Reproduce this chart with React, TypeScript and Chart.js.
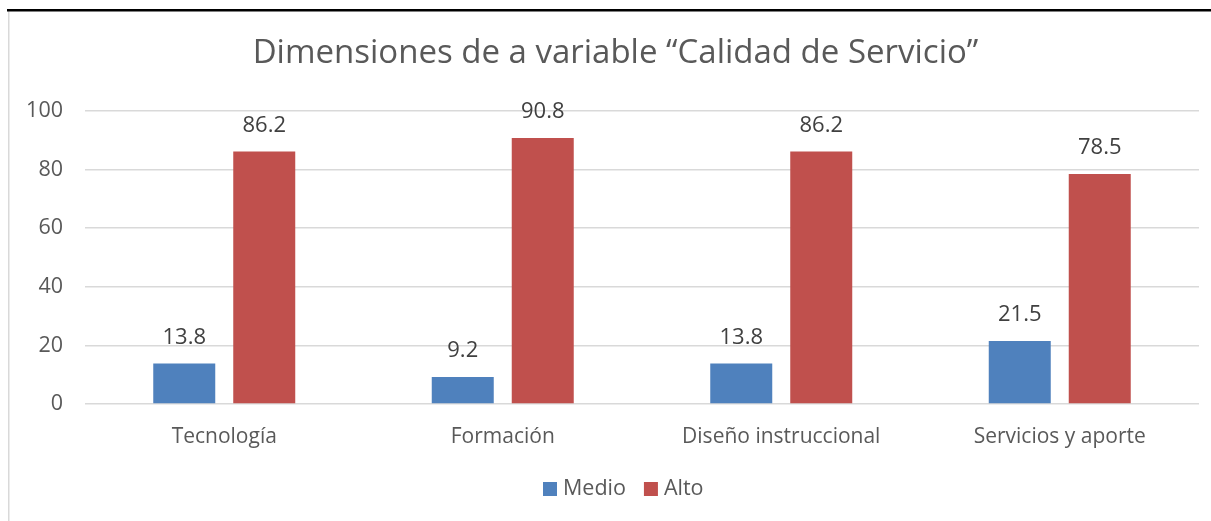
import React, { useEffect, useRef } from "react";
import { Chart, registerables } from "chart.js";

Chart.register(...registerables);

const title = "Dimensiones de a variable “Calidad de Servicio”";
const categories = ["Tecnología", "Formación", "Diseño instruccional", "Servicios y aporte"];
const seriesNames = ["Medio", "Alto"];
const medio = [13.8, 9.2, 13.8, 21.5];
const alto = [86.2, 90.8, 86.2, 78.5];
const colors = ["#4F81BD", "#C0504D"];
const FONT = "'Open Sans', sans-serif";

const framePlugin = {
  id: "frame",
  beforeDraw(chart: any) {
    const { ctx, width, height } = chart;
    ctx.save();
    ctx.fillStyle = "#ffffff";
    ctx.fillRect(0, 0, width, height);
    ctx.fillStyle = "#d9d9d9";
    ctx.fillRect(8, 11, 1.5, height - 11);
    ctx.fillStyle = "#000000";
    ctx.fillRect(7, 9, width - 7, 2.5);
    ctx.restore();
  },
  afterDraw(chart: any) {
    const { ctx, width } = chart;
    ctx.save();
    // title
    ctx.fillStyle = "#595959";
    ctx.font = `33px ${FONT}`;
    ctx.textAlign = "center";
    ctx.textBaseline = "middle";
    ctx.fillText(title, width / 2 + 10, 54);
    // data labels
    ctx.font = `22px ${FONT}`;
    ctx.fillStyle = "#404040";
    chart.data.datasets.forEach((ds: any, i: number) => {
      const meta = chart.getDatasetMeta(i);
      meta.data.forEach((bar: any, j: number) => {
        ctx.fillText(String(ds.data[j]), bar.x, bar.y - 26);
      });
    });
    // legend
    ctx.font = `21.5px ${FONT}`;
    ctx.textAlign = "left";
    const y = 489;
    const items = seriesNames.map((n) => ctx.measureText(n).width);
    const box = 14, gapBox = 6, gapItem = 18;
    const total = items.reduce((a, w) => a + box + gapBox + w, 0) + gapItem * (items.length - 1);
    let x = 543;
    seriesNames.forEach((n, i) => {
      ctx.fillStyle = colors[i];
      ctx.fillRect(x, y - box / 2, box, box);
      x += box + gapBox;
      ctx.fillStyle = "#595959";
      ctx.fillText(n, x, y);
      x += items[i] + gapItem;
    });
    ctx.restore();
  },
};

export default function App() {
  const ref = useRef<HTMLCanvasElement>(null);
  useEffect(() => {
    const chart = new Chart(ref.current!, {
      type: "bar",
      data: {
        labels: categories,
        datasets: [
          { label: seriesNames[0], data: medio, backgroundColor: colors[0] },
          { label: seriesNames[1], data: alto, backgroundColor: colors[1] },
        ],
      },
      options: {
        animation: false,
        responsive: false,
        maintainAspectRatio: false,
        layout: { padding: { top: 111, right: 12, bottom: 70, left: 10 } },
        datasets: {
          bar: { categoryPercentage: 0.5745, barPercentage: 0.775 },
        },
        plugins: {
          legend: { display: false },
          title: { display: false },
          tooltip: { enabled: false },
        },
        scales: {
          x: {
            grid: { display: false },
            border: { display: false },
            ticks: { color: "#595959", font: { family: FONT, size: 21 }, padding: 12 },
            afterFit(scale: any) {
              scale.height = 47;
            },
          },
          y: {
            min: 0,
            max: 100,
            ticks: { stepSize: 20, color: "#595959", font: { family: FONT, size: 21.5 }, padding: 22 },
            grid: { color: "#d9d9d9", lineWidth: 1.5, drawTicks: false },
            border: { display: false },
            afterFit(scale: any) {
              scale.width = 75;
            },
          },
        },
      },
      plugins: [framePlugin],
    });
    return () => chart.destroy();
  }, []);
  return (
    <div style={{ position: "fixed", left: 0, top: 0, width: 1211, height: 521 }}>
      <canvas ref={ref} width={1211} height={521} style={{ display: "block" }} />
    </div>
  );
}
